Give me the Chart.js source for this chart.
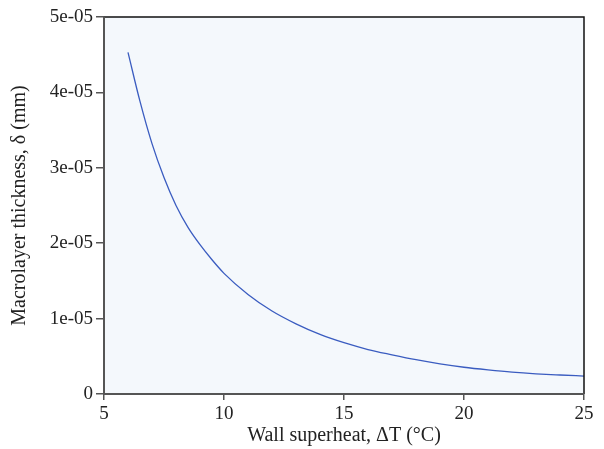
<!DOCTYPE html>
<html>
<head>
<meta charset="utf-8">
<script src="https://cdn.jsdelivr.net/npm/chart.js@4.4.1/dist/chart.umd.min.js"></script>
<style>
  html,body{margin:0;padding:0;background:#fff;}
  #wrap{width:604px;height:449px;}
</style>
</head>
<body>
<div id="wrap"><canvas id="cv" width="604" height="449"></canvas></div>
<script>
// values
const superheat = [6, 6.5, 7, 7.5, 8, 8.5, 9, 9.5, 10, 11, 12, 13, 14, 15, 16, 17, 18, 19, 20, 21, 22, 23, 24, 25];
const thickness = [4.53e-5, 3.88e-5, 3.32e-5, 2.87e-5, 2.50e-5, 2.21e-5, 1.98e-5, 1.78e-5, 1.60e-5,
                   1.32e-5, 1.10e-5, 0.93e-5, 0.79e-5, 0.68e-5, 0.59e-5, 0.52e-5, 0.455e-5, 0.40e-5,
                   0.355e-5, 0.32e-5, 0.29e-5, 0.268e-5, 0.252e-5, 0.238e-5];
const xTicks = [5, 10, 15, 20, 25];
const yTicks = [0, 1e-5, 2e-5, 3e-5, 4e-5, 5e-5];
const yLabels = ['0', '1e-05', '2e-05', '3e-05', '4e-05', '5e-05'];

const FONT = 'Liberation Serif';

// plot background + frame
const frame = {
    id: 'frame',
    beforeDraw(ch){
        const a = ch.chartArea, x = ch.ctx;
        x.save();
        x.fillStyle = '#f4f8fc';
        x.fillRect(a.left, a.top, a.right - a.left, a.bottom - a.top);
        x.restore();
    },
    afterDraw(ch){
        const a = ch.chartArea, x = ch.ctx;
        x.save();
        x.lineWidth = 1.5;
        x.strokeStyle = '#111';
        x.beginPath();
        x.moveTo(a.left, a.top); x.lineTo(a.right, a.top); x.lineTo(a.right, a.bottom);
        x.stroke();
        x.lineWidth = 2;
        x.strokeStyle = '#555';
        x.beginPath();
        x.moveTo(a.left, a.top); x.lineTo(a.left, a.bottom); x.lineTo(a.right, a.bottom);
        x.stroke();
        x.restore();
    }
};

new Chart(document.getElementById('cv'), {
    type: 'scatter',
    data: {
        datasets: [{
            data: superheat.map((v,i)=>({x:v, y:thickness[i]})),
            showLine: true,
            borderColor: '#3a5cc0',
            borderWidth: 1.3,
            pointRadius: 0,
            cubicInterpolationMode: 'monotone',
            fill: false
        }]
    },
    options: {
        responsive: false,
        animation: false,
        layout: {padding: {left: 0, right: 20, top: 17, bottom: 0}},
        plugins: {legend: {display: false}, tooltip: {enabled: false}},
        scales: {
            x: {
                type: 'linear', min: 5, max: 25,
                afterBuildTicks: s => { s.ticks = xTicks.map(v=>({value:v})); },
                afterFit: s => { s.height = 55; },
                grid: {drawOnChartArea: false, tickLength: 6, color: '#555', lineWidth: 1.5},
                border: {display: false},
                ticks: {color: '#222', font: {family: FONT, size: 19}, padding: 3, maxRotation: 0},
                title: {display: true, text: 'Wall superheat, ΔT (°C)', color: '#222',
                        font: {family: FONT, size: 20}, padding: {top: 0, bottom: 1}}
            },
            y: {
                type: 'linear', min: 0, max: 5e-5,
                afterBuildTicks: s => { s.ticks = yTicks.map(v=>({value:v})); },
                afterFit: s => { s.width = 104; },
                grid: {drawOnChartArea: false, tickLength: 8, color: '#555', lineWidth: 1.5},
                border: {display: false},
                ticks: {color: '#222', font: {family: FONT, size: 19}, padding: 3,
                        callback: (v, i) => yLabels[i]},
                title: {display: true, text: 'Macrolayer thickness, δ (mm)', color: '#222',
                        font: {family: FONT, size: 20}, padding: {top: 8, bottom: 0}}
            }
        }
    },
    plugins: [frame]
});
</script>
</body>
</html>
